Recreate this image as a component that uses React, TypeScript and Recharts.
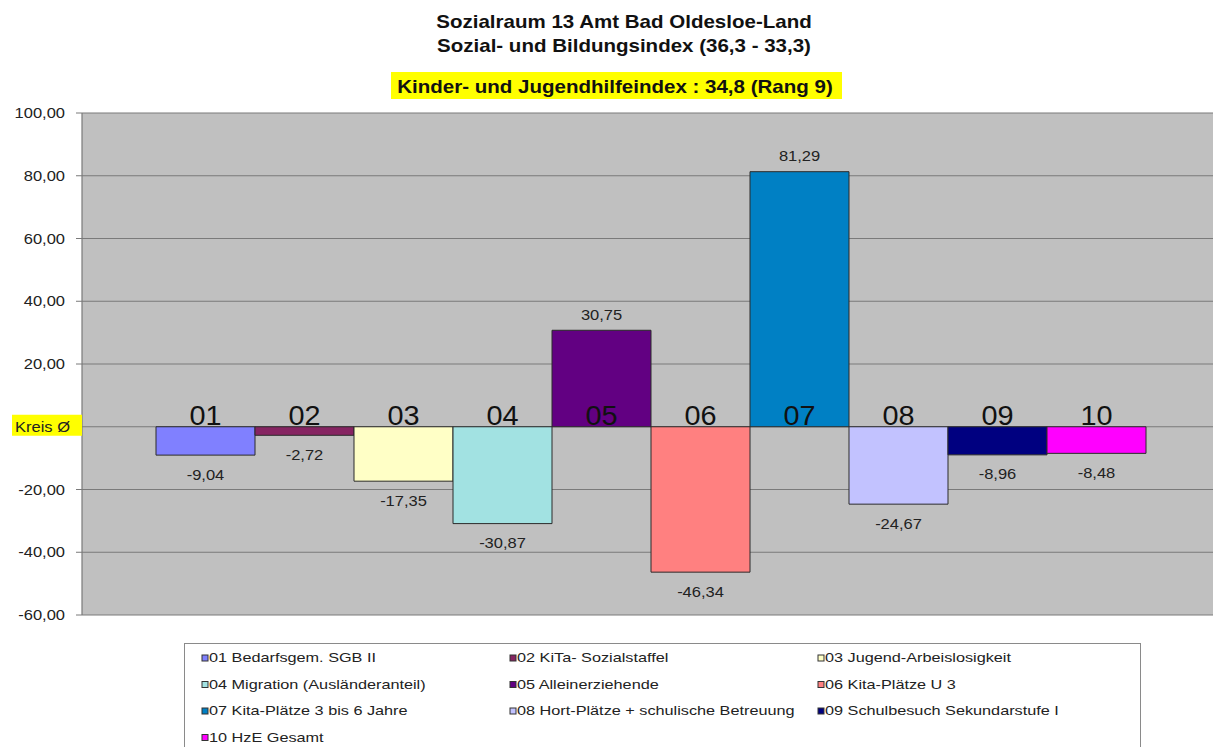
import React from 'react';
import { BarChart, Bar, XAxis, YAxis, CartesianGrid, LabelList } from 'recharts';

const FONT = "'Liberation Sans', Arial, sans-serif";

const categories = ['Sozialraum 13 Amt Bad Oldesloe-Land'];
const seriesCodes = ['01', '02', '03', '04', '05', '06', '07', '08', '09', '10'];
const seriesNames = [
  '01 Bedarfsgem. SGB II',
  '02 KiTa- Sozialstaffel',
  '03 Jugend-Arbeislosigkeit',
  '04 Migration (Ausländeranteil)',
  '05 Alleinerziehende',
  '06 Kita-Plätze U 3',
  '07 Kita-Plätze  3 bis 6 Jahre',
  '08 Hort-Plätze + schulische Betreuung',
  '09 Schulbesuch Sekundarstufe I',
  '10 HzE Gesamt',
];
const seriesValues = [-9.04, -2.72, -17.35, -30.87, 30.75, -46.34, 81.29, -24.67, -8.96, -8.48];
const seriesColors = ['#8080FF', '#862462', '#FFFFC6', '#A2E2E2', '#620082', '#FF8080', '#0080C4', '#C2C2FF', '#000080', '#FF00FF'];
const yTicks = [-60, -40, -20, 0, 20, 40, 60, 80, 100];
const titleLines = ['Sozialraum 13 Amt Bad Oldesloe-Land', 'Sozial- und Bildungsindex (36,3 - 33,3)'];
const subTitle = 'Kinder- und Jugendhilfeindex : 34,8 (Rang 9)';
const zeroLabel = 'Kreis Ø';

const data = categories.map((name) => {
  const row: Record<string, any> = { name };
  seriesCodes.forEach((c, i) => {
    row['s' + c] = seriesValues[i];
  });
  return row;
});

const fmt = (v: number) => v.toFixed(2).replace('.', ',');

type STProps = {
  x: number;
  y: number;
  size: number;
  sx?: number;
  anchor?: 'start' | 'middle' | 'end';
  weight?: string | number;
  fill?: string;
  children: React.ReactNode;
};
const SText = ({ x, y, size, sx = 1, anchor = 'middle', weight = 'normal', fill = '#222', children }: STProps) => (
  <text
    transform={`translate(${x},${y}) scale(${sx},1)`}
    textAnchor={anchor}
    fontSize={size}
    fontFamily={FONT}
    fontWeight={weight}
    fill={fill}
  >
    {children}
  </text>
);

const makeLabel = (i: number) => (props: any) => {
  const x0 = Number(props.x);
  const y0 = Number(props.y);
  const w = Number(props.width);
  const h = Number(props.height);
  const v = Number(props.value);
  const top = Math.min(y0, y0 + h);
  const bottom = Math.max(y0, y0 + h);
  const zero = v < 0 ? top : bottom;
  const cx = x0 + w / 2;
  const valCenter = v < 0 ? bottom + 19 : top - 16;
  return (
    <g>
      <SText x={cx} y={zero - 2} size={28} sx={1.03} fill="#111">
        {seriesCodes[i]}
      </SText>
      <SText x={cx} y={valCenter + 5.5} size={15} sx={1.1} fill="#222">
        {fmt(v)}
      </SText>
    </g>
  );
};

const YTick = (props: any) => {
  const { x, y, payload } = props;
  if (payload.value === 0) {
    return (
      <g>
        <rect x={x - 53} y={y - 12} width={70} height={21} fill="#FFFF00" />
        <SText x={x - 50} y={y + 5} size={15} sx={1.1} anchor="start" fill="#222">
          {zeroLabel}
        </SText>
      </g>
    );
  }
  return (
    <SText x={x} y={y + 5} size={15} sx={1.1} anchor="end" fill="#222">
      {fmt(payload.value)}
    </SText>
  );
};

export default function App() {
  return (
    <div
      style={{
        position: 'absolute',
        left: 0,
        top: 0,
        width: 1213,
        height: 747,
        overflow: 'hidden',
        background: '#fff',
        fontFamily: FONT,
      }}
    >
      <div style={{ position: 'absolute', left: 0, top: 0 }}>
        <BarChart
          width={1222}
          height={747}
          data={data}
          margin={{ top: 113, right: 0, bottom: 132, left: 0 }}
          barCategoryGap={74}
          barGap={0}
        >
          <CartesianGrid vertical={false} fill="#C0C0C0" stroke="#7A7A7A" strokeWidth={1.2} />
          <XAxis dataKey="name" hide />
          <YAxis
            width={82}
            domain={[-60, 100]}
            ticks={yTicks}
            interval={0}
            axisLine={{ stroke: '#7A7A7A', strokeWidth: 1.2 }}
            tickLine={{ stroke: '#7A7A7A' }}
            tickSize={6}
            tickMargin={11}
            tick={<YTick />}
            allowDataOverflow
          />
          {seriesCodes.map((c, i) => (
            <Bar
              key={c}
              dataKey={'s' + c}
              name={seriesNames[i]}
              fill={seriesColors[i]}
              stroke="#2a2a2a"
              strokeWidth={1}
              isAnimationActive={false}
            >
              <LabelList dataKey={'s' + c} content={makeLabel(i)} />
            </Bar>
          ))}
        </BarChart>
      </div>
      <svg
        width={1213}
        height={747}
        style={{ position: 'absolute', left: 0, top: 0, pointerEvents: 'none' }}
      >
        <SText x={624} y={28} size={18} sx={1.14} weight="bold" fill="#111">
          {titleLines[0]}
        </SText>
        <SText x={624} y={52} size={18} sx={1.14} weight="bold" fill="#111">
          {titleLines[1]}
        </SText>
        <rect x={391} y={72} width={451} height={27} fill="#FFFF00" />
        <SText x={615} y={93} size={18} sx={1.14} weight="bold" fill="#111">
          {subTitle}
        </SText>
        <rect x={184.5} y={643.5} width={956} height={120} fill="#fff" stroke="#8a8a8a" strokeWidth={1} />
        {seriesNames.map((n, i) => {
          const col = i % 3;
          const row = Math.floor(i / 3);
          const bx = 202 + col * 308;
          const by = 662 + row * 26.5;
          return (
            <g key={n}>
              <rect x={bx} y={by - 7} width={6} height={6} fill={seriesColors[i]} stroke="#333" strokeWidth={1} />
              <SText x={bx + 7} y={by} size={13} sx={1.25} anchor="start" fill="#222">
                {n}
              </SText>
            </g>
          );
        })}
      </svg>
    </div>
  );
}
